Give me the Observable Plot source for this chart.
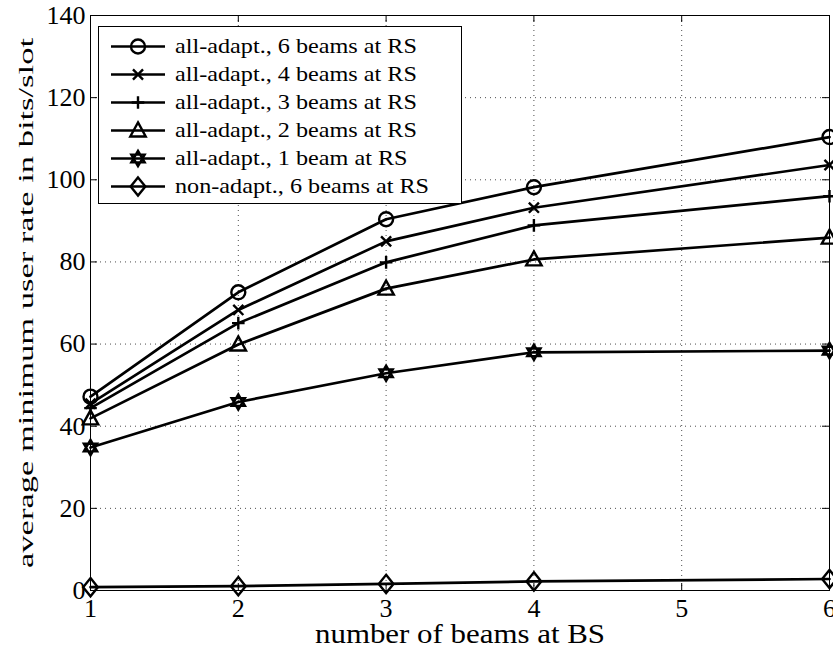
<!DOCTYPE html>
<html>
<head>
<meta charset="utf-8">
<script src="https://cdn.jsdelivr.net/npm/d3@7"></script>
<script src="https://cdn.jsdelivr.net/npm/@observablehq/plot@0.6"></script>
<style>
  html, body { margin: 0; padding: 0; background: #fff; }
  #chart { position: relative; width: 833px; height: 651px; }
  #chart svg { display: block; }
</style>
</head>
<body>
<div id="chart"></div>
<script>
// Number of beams at the base station (x values; no simulation at 5 beams)
const beamsBS = [1, 2, 3, 4, 6];

// Average minimum user rate (bits/slot) for each scheme
const allAdapt6 = [47.2, 72.6, 90.4, 98.2, 110.4];
const allAdapt4 = [45.5, 68.3, 85.0, 93.2, 103.6];
const allAdapt3 = [44.4, 65.1, 79.9, 88.9, 96.0];
const allAdapt2 = [41.9, 59.9, 73.5, 80.6, 85.9];
const allAdapt1 = [34.8, 45.9, 52.9, 58.0, 58.4];
const nonAdapt6 = [0.8, 1.05, 1.6, 2.2, 2.8];

const seriesNames = [
  "all-adapt., 6 beams at RS",
  "all-adapt., 4 beams at RS",
  "all-adapt., 3 beams at RS",
  "all-adapt., 2 beams at RS",
  "all-adapt., 1 beam at RS",
  "non-adapt., 6 beams at RS"
];
const seriesValues = [allAdapt6, allAdapt4, allAdapt3, allAdapt2, allAdapt1, nonAdapt6];

const xTicks = [1, 2, 3, 4, 5, 6];
const yTicks = [0, 20, 40, 60, 80, 100, 120, 140];
const xLabel = "number of beams at BS";
const yLabel = "average minimum user rate in bits/slot";

// MATLAB-style marker shapes, scaled from the dot radius
const rOf = size => Math.sqrt(size / Math.PI);
function poly(ctx, pts) {
  ctx.moveTo(pts[0][0], pts[0][1]);
  for (let i = 1; i < pts.length; ++i) ctx.lineTo(pts[i][0], pts[i][1]);
  ctx.closePath();
}
const symCircle = { draw(ctx, size) { const r = rOf(size); ctx.moveTo(r, 0); ctx.arc(0, 0, r, 0, 2 * Math.PI); } };
const symTimes = { draw(ctx, size) { const a = rOf(size) * 0.72; ctx.moveTo(-a, -a); ctx.lineTo(a, a); ctx.moveTo(-a, a); ctx.lineTo(a, -a); } };
const symPlus = { draw(ctx, size) { const a = rOf(size) * 0.9; ctx.moveTo(-a, 0); ctx.lineTo(a, 0); ctx.moveTo(0, -a); ctx.lineTo(0, a); } };
const symTriangle = { draw(ctx, size) { const r = rOf(size); poly(ctx, [[0, -1.15 * r], [1.1 * r, 0.85 * r], [-1.1 * r, 0.85 * r]]); } };
const symHexagram = { draw(ctx, size) {
  const R = rOf(size) * 1.1;
  const pt = deg => [R * Math.cos(deg * Math.PI / 180), R * Math.sin(deg * Math.PI / 180)];
  poly(ctx, [pt(-90), pt(30), pt(150)]);
  poly(ctx, [pt(90), pt(210), pt(330)]);
} };
const symDiamond = { draw(ctx, size) { const r = rOf(size); poly(ctx, [[0, -1.3 * r], [1.05 * r, 0], [0, 1.3 * r], [-1.05 * r, 0]]); } };
const seriesSymbols = [symCircle, symTimes, symPlus, symTriangle, symHexagram, symDiamond];

const rows = seriesNames.flatMap((name, i) =>
  beamsBS.map((b, j) => ({ series: name, beams: b, rate: seriesValues[i][j] }))
);

const W = 833, H = 651;
const mL = 90, mR = 4, mT = 15, mB = 61;
const innerH = H - mT - mB, innerW = W - mL - mR;
const tickLen = 7;
const font = "'Liberation Serif', 'Times New Roman', Times, serif";
const dotR = 7;

const plot = Plot.plot({
  width: W, height: H,
  marginLeft: mL, marginRight: mR, marginTop: mT, marginBottom: mB,
  style: { fontFamily: font, background: "#fff", color: "#000", overflow: "visible" },
  x: { domain: [1, 6] },
  y: { domain: [0, 140] },
  marks: [
    // dotted grid
    Plot.ruleX(xTicks.slice(1, -1), { stroke: "#000", strokeOpacity: 0.7, strokeWidth: 1, strokeDasharray: "1,4" }),
    Plot.ruleY(yTicks.slice(1, -1), { stroke: "#000", strokeOpacity: 0.7, strokeWidth: 1, strokeDasharray: "1,4" }),
    // inward ticks on all four sides
    Plot.ruleX(xTicks, { insetTop: innerH - tickLen, stroke: "#000" }),
    Plot.ruleX(xTicks, { insetBottom: innerH - tickLen, stroke: "#000" }),
    Plot.ruleY(yTicks, { insetRight: innerW - tickLen, stroke: "#000" }),
    Plot.ruleY(yTicks, { insetLeft: innerW - tickLen, stroke: "#000" }),
    Plot.frame({ stroke: "#000", strokeWidth: 1 }),
    // series lines and markers
    Plot.line(rows, { x: "beams", y: "rate", z: "series", stroke: "#000", strokeWidth: 2.7 }),
    ...seriesNames.map((name, i) =>
      Plot.dot(rows.filter(d => d.series === name), {
        x: "beams", y: "rate", r: dotR, symbol: seriesSymbols[i],
        fill: "none", stroke: "#000", strokeWidth: 2.4
      })
    ),
    // tick labels
    Plot.axisX({ ticks: xTicks, tickFormat: d3.format("d"), tickSize: 0, tickPadding: 8, fontSize: 26, label: null }),
    Plot.axisY({ ticks: yTicks, tickFormat: d3.format("d"), tickSize: 0, tickPadding: 5, fontSize: 26, label: null }),
    // axis titles
    Plot.text([xLabel], { frameAnchor: "bottom", dy: 52, fontSize: 27, fill: "#000" }),
    Plot.text([yLabel], { frameAnchor: "left", textAnchor: "middle", rotate: -90, dx: -64, fontSize: 21, fill: "#000" })
  ]
});

const chart = document.getElementById("chart");
chart.appendChild(plot);

// widen the serif glyph runs slightly, as typeset with Computer Modern
const svgSel = d3.select(plot);
svgSel.selectAll("text").each(function () {
  const t = this.textContent;
  if (t === xLabel) { this.setAttribute("textLength", 290); this.setAttribute("lengthAdjust", "spacingAndGlyphs"); }
  else if (t === yLabel) { this.setAttribute("textLength", 530); this.setAttribute("lengthAdjust", "spacingAndGlyphs"); }
});

// Legend box in the upper-left corner of the axes
const lg = { x: 98, y: 26, w: 363, h: 177, rowTop: 20.5, rowStep: 28, lineX0: 13, lineX1: 67, textX: 77 };
const legend = d3.create("svg")
  .attr("width", W).attr("height", H)
  .style("position", "absolute").style("left", "0px").style("top", "0px")
  .style("font-family", font);
const g = legend.append("g").attr("transform", `translate(${lg.x},${lg.y})`);
g.append("rect")
  .attr("x", 0.5).attr("y", 0.5).attr("width", lg.w).attr("height", lg.h)
  .attr("fill", "#fff").attr("stroke", "#000").attr("stroke-width", 1);
chart.appendChild(legend.node());
seriesNames.forEach((name, i) => {
  const cy = lg.rowTop + i * lg.rowStep;
  const row = g.append("g").attr("transform", `translate(0,${cy})`);
  row.append("line")
    .attr("x1", lg.lineX0).attr("x2", lg.lineX1).attr("y1", 0).attr("y2", 0)
    .attr("stroke", "#000").attr("stroke-width", 2.7);
  row.append("path")
    .attr("transform", `translate(${(lg.lineX0 + lg.lineX1) / 2},0)`)
    .attr("d", d3.symbol(seriesSymbols[i], Math.PI * dotR * dotR)())
    .attr("fill", "none").attr("stroke", "#000").attr("stroke-width", 2.4);
  const txt = row.append("text")
    .attr("x", lg.textX).attr("y", 0).attr("dy", "0.3em")
    .attr("font-size", 22).attr("fill", "#000")
    .text(name);
  const natural = txt.node().getComputedTextLength();
  txt.attr("textLength", natural * 1.1).attr("lengthAdjust", "spacingAndGlyphs");
});
</script>
</body>
</html>
